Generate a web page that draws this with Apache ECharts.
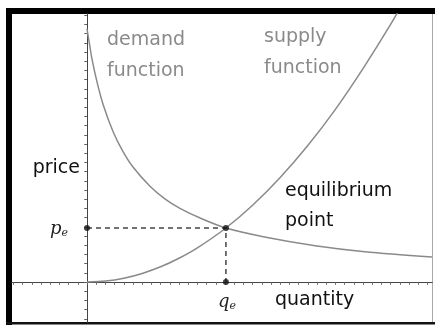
<!DOCTYPE html>
<html>
<head>
<meta charset="utf-8">
<script src="https://cdn.jsdelivr.net/npm/echarts@6/dist/echarts.min.js"></script>
<style>
  html, body { margin: 0; padding: 0; background: #fff; }
  #container { width: 435px; height: 327px; }
</style>
</head>
<body>
<div id="container"></div>
<script>
// values, in axis tick units (1 tick = 1)
var demandQ = [0, 0.25, 0.55, 1.1, 1.75, 2.85, 3.9, 5, 6.85, 8.5, 10.1, 12.3, 15.1, 19.3, 24.8, 30.2, 37.5];
var demandP = [27.5, 26.0, 24.2, 21.7, 19.3, 16.3, 14.2, 12.5, 10.4, 9.0, 8.0, 6.95, 5.87, 4.9, 3.95, 3.3, 2.73];
var supplyQ = [0, 2, 4, 6, 8, 10, 12, 15.1, 18, 21, 24, 27, 30, 33, 35];
var supplyP = [0, 0.1, 0.41, 0.93, 1.65, 2.58, 3.71, 5.87, 8.34, 11.36, 14.83, 18.77, 23.2, 28.0, 31.5];
var qe = 15.1;
var pe = 5.87;
var xTicks = [];
var yTicks = [];
for (var i = -8; i <= 37; i++) xTicks.push(i);
for (var j = -4; j <= 29; j++) yTicks.push(j);

function pairs(xs, ys) {
    return xs.map(function(x, k) { return [x, ys[k]]; });
}

var dom = document.getElementById("container");
var myChart = echarts.init(dom, null, {renderer: 'canvas'});

var axisColor = '#444';
var curveColor = '#8a8a8a';
var sans = 'DejaVu Sans';

function xAxisOf(inside) {
    return {
        type: 'value', min: -8.152, max: 37.5,
        axisLine: {onZero: true, lineStyle: {color: axisColor, width: 1}},
        axisTick: {show: true, inside: inside, length: 2.5, customValues: xTicks,
            lineStyle: {color: '#666', width: 1}},
        axisLabel: {show: false},
        splitLine: {show: false}
    };
}
function yAxisOf(inside) {
    return {
        type: 'value', min: -4.348, max: 29.13,
        axisLine: {onZero: true, lineStyle: {color: axisColor, width: 1}},
        axisTick: {show: true, inside: inside, length: 2.5, customValues: yTicks,
            lineStyle: {color: '#666', width: 1}},
        axisLabel: {show: false},
        splitLine: {show: false}
    };
}

function label(text, x, y, color, align) {
    return {
        type: 'text', x: x, y: y, z: 10,
        style: {text: text, fill: color, font: '19px "' + sans + '"',
            align: align || 'left', verticalAlign: 'middle'}
    };
}

var option = {
    animation: false,
    backgroundColor: '#fff',
    grid: {left: 12, right: 3, top: 14, bottom: 5, containLabel: false},
    xAxis: [xAxisOf(false), xAxisOf(true)],
    yAxis: [yAxisOf(false), yAxisOf(true)],
    series: [
        {type: 'line', name: 'demand', data: pairs(demandQ, demandP), showSymbol: false,
            smooth: 0.3, lineStyle: {color: curveColor, width: 1.5}},
        {type: 'line', name: 'supply', data: pairs(supplyQ, supplyP), showSymbol: false,
            smooth: 0.3, lineStyle: {color: curveColor, width: 1.5}},
        {type: 'line', name: 'guides', data: [[0, pe], [qe, pe], [qe, 0]], showSymbol: false,
            lineStyle: {color: '#444', width: 1.5, type: [5, 4]}},
        {type: 'scatter', name: 'points', data: [[0, pe], [qe, pe], [qe, 0]], symbolSize: 6,
            itemStyle: {color: '#111'}, z: 5}
    ],
    graphic: [
        // frame
        {type: 'rect', shape: {x: 6, y: 8, width: 429, height: 6}, style: {fill: '#000'}},
        {type: 'rect', shape: {x: 6, y: 8, width: 6, height: 317}, style: {fill: '#000'}},
        {type: 'rect', shape: {x: 6, y: 322, width: 429, height: 2.5}, style: {fill: '#111'}},
        {type: 'rect', shape: {x: 432, y: 14, width: 1, height: 308}, style: {fill: '#aaa'}},
        label('demand', 107, 40.5, curveColor),
        label('function', 107, 71.5, curveColor),
        label('supply', 264, 37.5, curveColor),
        label('function', 264, 68.5, curveColor),
        label('price', 80, 168.5, '#111', 'right'),
        label('equilibrium', 285, 191.5, '#111'),
        label('point', 285, 221.5, '#111'),
        label('quantity', 275, 300.5, '#111'),
        {type: 'text', x: 68, y: 229, z: 10,
            style: {text: '{p|p}{e|e}', align: 'right', verticalAlign: 'middle',
                rich: {p: {font: 'italic 18px "DejaVu Serif"', fill: '#222'},
                       e: {font: 'italic 11px "DejaVu Serif"', fill: '#222', padding: [8, 0, 0, 0]}}}},
        {type: 'text', x: 227, y: 302, z: 10,
            style: {text: '{q|q}{e|e}', align: 'center', verticalAlign: 'middle',
                rich: {q: {font: 'italic 18px "DejaVu Serif"', fill: '#222'},
                       e: {font: 'italic 11px "DejaVu Serif"', fill: '#222', padding: [8, 0, 0, 0]}}}}
    ]
};
myChart.setOption(option, true);
</script>
</body>
</html>
